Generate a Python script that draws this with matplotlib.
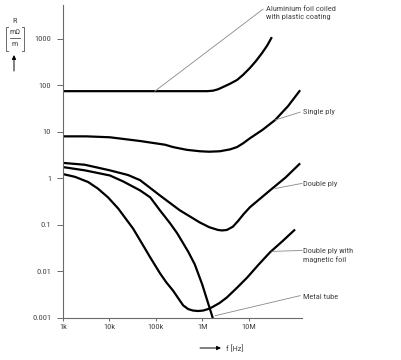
"""Skin-effect resistance R/m of cable shields versus frequency."""

import matplotlib

matplotlib.use("Agg")
import matplotlib.pyplot as plt
import numpy as np
from matplotlib import font_manager

# the original uses a narrow Helvetica/Arial; take the first narrow face that is installed
_installed = {f.name for f in font_manager.fontManager.ttflist}
_narrow = [
    name
    for name in ("Liberation Sans Narrow", "Arial Narrow", "Nimbus Sans Narrow", "Roboto Condensed",
                 "Archivo Narrow", "PT Sans Narrow", "Open Sans Condensed", "Liberation Sans")
    if name in _installed
]
plt.rcParams["font.family"] = _narrow[:1] + ["DejaVu Sans"]

W, H = 401, 360

# curves, as log10(f / Hz) and log10(R / (mOhm/m))
ALU_LOGF = [3.00, 4.50, 5.50, 6.10, 6.23, 6.34, 6.45, 6.60, 6.75, 6.88, 7.03, 7.16, 7.29, 7.40, 7.50]
ALU_LOGR = [1.87, 1.87, 1.87, 1.87, 1.88, 1.91, 1.96, 2.03, 2.11, 2.22, 2.37, 2.52, 2.69, 2.85, 3.03]

SINGLE_LOGF = [3.00, 3.50, 4.01, 4.66, 5.20, 5.37, 5.67, 5.95, 6.15, 6.38, 6.60, 6.75, 6.88, 7.03,
               7.30, 7.57, 7.85, 8.11]
SINGLE_LOGR = [0.90, 0.90, 0.88, 0.80, 0.72, 0.67, 0.61, 0.58, 0.57, 0.58, 0.62, 0.67, 0.75, 0.86,
               1.04, 1.25, 1.55, 1.89]

DOUBLE_LOGF = [3.00, 3.47, 4.01, 4.40, 4.66, 5.09, 5.52, 5.95, 6.15, 6.34, 6.43, 6.53, 6.66, 6.77,
               6.90, 7.03, 7.46, 7.80, 8.11]
DOUBLE_LOGR = [0.33, 0.29, 0.17, 0.07, -0.04, -0.37, -0.69, -0.95, -1.05, -1.11, -1.12, -1.11, -1.04,
               -0.92, -0.76, -0.62, -0.26, 0.02, 0.32]

MAGNETIC_LOGF = [3.00, 3.26, 3.54, 3.75, 3.97, 4.19, 4.51, 4.66, 4.88, 5.09, 5.23, 5.37, 5.50, 5.59,
                 5.70, 5.80, 5.91, 6.02, 6.12, 6.21, 6.37, 6.53, 6.75, 6.97, 7.20, 7.46, 7.73, 8.00]
MAGNETIC_LOGR = [0.09, 0.03, -0.08, -0.22, -0.41, -0.65, -1.08, -1.33, -1.70, -2.04, -2.24, -2.41,
                 -2.60, -2.73, -2.81, -2.84, -2.85, -2.84, -2.81, -2.77, -2.68, -2.56, -2.35, -2.13,
                 -1.87, -1.59, -1.35, -1.10]

TUBE_LOGF = [3.00, 3.47, 4.01, 4.30, 4.66, 4.88, 5.09, 5.31, 5.46, 5.70, 5.84, 6.00, 6.12, 6.23,
             6.26]
TUBE_LOGR = [0.24, 0.17, 0.06, -0.07, -0.26, -0.41, -0.69, -0.97, -1.18, -1.58, -1.85, -2.28, -2.66,
             -3.01, -3.15]

X_TICKS = [1e3, 1e4, 1e5, 1e6, 1e7]
X_LABELS = ["1k", "10k", "100k", "1M", "10M"]
Y_TICKS = [1e-3, 1e-2, 1e-1, 1, 10, 100, 1000]
Y_LABELS = ["0.001", "0.01", "0.1", "1", "10", "100", "1000"]

# (label, leader start, leader end, text anchor) in log10 data units
LABELS = [
    ("Aluminium foil coiled\nwith plastic coating", (4.98, 1.87), (7.31, 3.63), (7.37, 3.55)),
    ("Single ply", (7.57, 1.25), (8.11, 1.42), (8.17, 1.42)),
    ("Double ply", (7.57, -0.22), (8.15, -0.11), (8.17, -0.13)),
    ("Double ply with\nmagnetic foil", (7.50, -1.57), (8.15, -1.55), (8.17, -1.66)),
    ("Metal tube", (6.28, -2.95), (8.11, -2.52), (8.17, -2.54)),
]

GREY = "#6a6a6a"
TEXT = "#444444"
FS = 6.0


def px(x, y):
    """Pixel position (origin top-left) to figure fraction."""
    return x / W, 1 - y / H


fig = plt.figure(figsize=(W / 100, H / 100), dpi=100)
ax = fig.add_axes([63 / W, 1 - 318 / H, (302 - 63) / W, (318 - 5) / H])

for logf, logr in [
    (ALU_LOGF, ALU_LOGR),
    (SINGLE_LOGF, SINGLE_LOGR),
    (DOUBLE_LOGF, DOUBLE_LOGR),
    (MAGNETIC_LOGF, MAGNETIC_LOGR),
    (TUBE_LOGF, TUBE_LOGR),
]:
    ax.plot(10 ** np.asarray(logf), 10 ** np.asarray(logr), color="black", linewidth=1.6,
            solid_joinstyle="round", solid_capstyle="butt")

for text, start, end, anchor in LABELS:
    ax.plot([10 ** start[0], 10 ** end[0]], [10 ** start[1], 10 ** end[1]],
            color="#888888", linewidth=0.6, clip_on=False)
    ax.text(10 ** anchor[0], 10 ** anchor[1], text, ha="left", va="center",
            fontsize=FS, color=TEXT, linespacing=1.25, clip_on=False)

ax.set_xscale("log")
ax.set_yscale("log")
ax.set_xlim(1e3, 10 ** 8.15)
ax.set_ylim(1e-3, 10 ** 3.72)
ax.set_xticks(X_TICKS, X_LABELS)
ax.set_yticks(Y_TICKS, Y_LABELS)
ax.minorticks_off()
ax.tick_params(axis="y", length=4.5, width=0.7, color=GREY, labelsize=FS, labelcolor=TEXT, pad=4)
ax.tick_params(axis="x", length=2.5, width=0.7, color=GREY, labelsize=FS, labelcolor=TEXT, pad=2)
for side in ("top", "right"):
    ax.spines[side].set_visible(False)
for side in ("left", "bottom"):
    ax.spines[side].set_color(GREY)
    ax.spines[side].set_linewidth(0.8)

# y axis unit: R [mOhm / m] with upward arrow
fig.text(*px(15, 21), "R", fontsize=FS, color=TEXT, ha="center", va="center")
fig.text(*px(15, 32), "m\u03a9", fontsize=FS, color=TEXT, ha="center", va="center")
fig.text(*px(15, 44), "m", fontsize=FS, color=TEXT, ha="center", va="center")
for seg in [
    [(8, 27), (6, 27), (6, 51), (8, 51)],
    [(22, 27), (24, 27), (24, 51), (22, 51)],
    [(10, 38), (20, 38)],
]:
    pts = [px(*p) for p in seg]
    fig.add_artist(plt.Line2D([p[0] for p in pts], [p[1] for p in pts],
                              color=GREY, linewidth=0.7, transform=fig.transFigure))
ax.annotate("", xy=px(14, 55), xytext=px(14, 71), xycoords="figure fraction",
            arrowprops=dict(arrowstyle="-|>", color="black", linewidth=0.7,
                            mutation_scale=6, shrinkA=0, shrinkB=0))

# x axis unit: -> f [Hz]
ax.annotate("", xy=px(221, 348), xytext=px(200, 348), xycoords="figure fraction",
            arrowprops=dict(arrowstyle="-|>", color="black", linewidth=0.7,
                            mutation_scale=6, shrinkA=0, shrinkB=0))
fig.text(*px(226, 348), "f [Hz]", fontsize=FS, color=TEXT, ha="left", va="center")

fig.savefig("out.png", dpi=100)
